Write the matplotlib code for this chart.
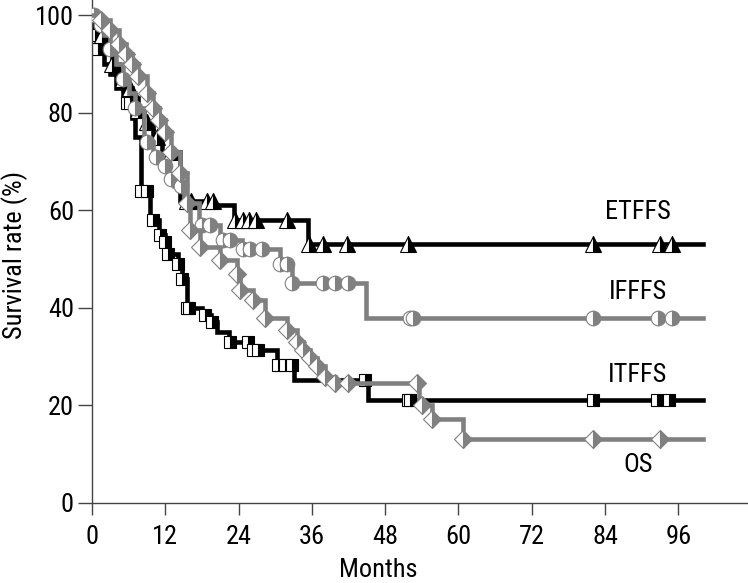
import numpy as np
import matplotlib
matplotlib.use("Agg")
import matplotlib.pyplot as plt
from matplotlib import font_manager

# ---------------------------------------------------------------------------
# Data
# ---------------------------------------------------------------------------

END_MONTH = 100

# ETFFS - black, triangles
etffs_t = [0, 0.7, 1.5, 2.5, 3.3, 4.5, 5.5, 6.5, 7.5, 8.5, 10, 11.5, 14.4, 20, 23.2, 35.3]
etffs_s = [100, 98, 96, 93, 90, 87, 85, 83, 80.5, 78, 75, 72, 62, 61, 58, 53]
etffs_c = [1.6, 3.3, 5, 6.3, 7.6, 9, 10.6, 13, 15.5, 16.2, 18.8, 19.8, 23.4, 24.8,
           25.7, 26.8, 31.9, 35.5, 37.8, 41.7, 51.7, 82, 93, 95]

# IFFFS - gray, circles
ifffs_t = [0, 1, 2, 3, 4, 5, 6, 7, 8.5, 10, 11.5, 12.5, 13.5, 15, 17.5, 21, 24.5, 30.8, 32.7, 44.8]
ifffs_s = [100, 98, 96, 93, 90, 87, 84, 81, 74, 71, 69, 66.5, 65, 61.5, 57, 54, 52, 49, 45, 38]
ifffs_c = [0.3, 1.5, 3, 5, 7, 9, 10.5, 12, 13, 14.5, 18, 19.3, 21.5, 22.6, 24.7, 25.9,
           27.8, 30.8, 31.9, 32.7, 37.8, 39.8, 41.9, 52, 52.6, 82, 92.6, 95]

# ITFFS - black, squares
itffs_t = [0, 0.3, 1, 2, 3, 4, 5, 6.5, 7, 8, 9.5, 11, 12, 12.5, 14, 14.7, 15.5, 18, 19.5,
           20.5, 22.5, 26.2, 30.3, 33, 45.2]
itffs_s = [100, 96, 93, 90, 88, 85, 82, 79, 75, 64, 58, 55, 53.5, 51, 49, 46, 40, 38.5, 37,
           35, 33, 31.4, 28.3, 25.2, 21.1]
itffs_c = [0.5, 1, 5.7, 6.2, 8, 9, 10, 11.1, 12, 12.5, 14, 14.7, 15.5, 15.8, 18.5, 19.6,
           22.6, 25.6, 26.4, 27.2, 30.5, 31.6, 32.7, 44.7, 51.7, 52, 82, 92.5, 94.5]

# OS - gray, diamonds
os_t = [0, 1.5, 3, 4.5, 5.5, 6.5, 7.5, 9, 10, 11, 12, 13, 14.4, 15.5, 16, 17.7, 21, 23.7,
        24.2, 26.4, 28.3, 31.9, 33.5, 34.6, 35.7, 36.8, 38.1, 39.8, 53.5, 55.7, 60.7]
os_s = [100, 99, 97, 94, 92, 90, 87.5, 84, 81, 78.5, 76, 72, 67.6, 61.5, 56, 52.5, 49.8,
        47, 43.6, 41.6, 38, 35.5, 33, 31.4, 29.7, 28, 25.9, 24.5, 20, 17.2, 13.2]
os_c = [1.5, 3, 4.5, 5.5, 6.5, 7.5, 9, 10, 11, 12, 13, 14.4, 15.5, 16, 17.7, 21, 23.7,
        24.2, 26.4, 28.3, 31.9, 33.5, 34.6, 35.7, 36.8, 38.1, 39.8, 41.9, 53.2, 54,
        55.7, 60.7, 82, 93]

x_ticks = [0, 12, 24, 36, 48, 60, 72, 84, 96]
y_ticks = [0, 20, 40, 60, 80, 100]

BLACK = "#000000"
GRAY = "#808080"
AXIS = "#444444"

# ---------------------------------------------------------------------------
# Font: narrow sans if available
# ---------------------------------------------------------------------------

available = {f.name for f in font_manager.fontManager.ttflist}
family = [f for f in ["Liberation Sans Narrow", "Roboto Condensed", "Liberation Sans"]
          if f in available] + ["DejaVu Sans"]
plt.rcParams["font.family"] = family


def valueAt(t, times, surv):
    """Survival value of a step curve at time t."""
    idx = np.searchsorted(times, t, side="right") - 1
    return np.asarray(surv)[idx]


def drawCurve(ax, times, surv, cens, color, marker, ms, zorder):
    xs = list(times) + [END_MONTH]
    ys = list(surv) + [surv[-1]]
    ax.step(xs, ys, where="post", color=color, lw=3.3, zorder=zorder,
            solid_joinstyle="miter")
    cy = valueAt(cens, times, surv)
    ax.plot(cens, cy, ls="none", marker=marker, ms=ms, fillstyle="right",
            markerfacecolor=color, markerfacecoloralt="white",
            markeredgecolor=color, mew=0.8, zorder=zorder + 0.5)


def main():
    fig = plt.figure(figsize=(7.48, 5.83), dpi=100)
    ax = fig.add_axes([92 / 748, 80 / 583, 656 / 748, 503 / 583])

    drawCurve(ax, itffs_t, itffs_s, itffs_c, BLACK, "s", 8.5, 2)
    drawCurve(ax, etffs_t, etffs_s, etffs_c, BLACK, "^", 12, 3)
    drawCurve(ax, ifffs_t, ifffs_s, ifffs_c, GRAY, "o", 10.5, 4)
    drawCurve(ax, os_t, os_s, os_c, GRAY, "D", 9.5, 5)

    # curve labels
    labelFont = dict(fontsize=19, ha="center", va="center", color="black")
    ax.text(89.4, 59.6, "ETFFS", **labelFont)
    ax.text(89.4, 43.2, "IFFFS", **labelFont)
    ax.text(89.4, 26.2, "ITFFS", **labelFont)
    ax.text(89.4, 7.8, "OS", **labelFont)

    ax.set_xlim(0, 107.4)
    ax.set_ylim(0, 103.1)
    ax.set_xticks(x_ticks)
    ax.set_yticks(y_ticks)

    for side in ["top", "right"]:
        ax.spines[side].set_visible(False)
    for side in ["left", "bottom"]:
        ax.spines[side].set_color(AXIS)
        ax.spines[side].set_linewidth(1.0)

    ax.tick_params(axis="x", length=8.5, width=1.0, color=AXIS, pad=7, labelsize=19)
    ax.tick_params(axis="y", length=10, width=1.0, color=AXIS, pad=3, labelsize=19)

    ax.set_xlabel("Months", fontsize=19, va="center")
    ax.xaxis.set_label_coords((378 - 92) / 656, (503 - 570) / 503)
    ax.set_ylabel("Survival rate (%)", fontsize=19, va="center")
    ax.yaxis.set_label_coords((15 - 92) / 656, (503 - 255) / 503)

    fig.savefig("out.png", dpi=100)


if __name__ == "__main__":
    main()
